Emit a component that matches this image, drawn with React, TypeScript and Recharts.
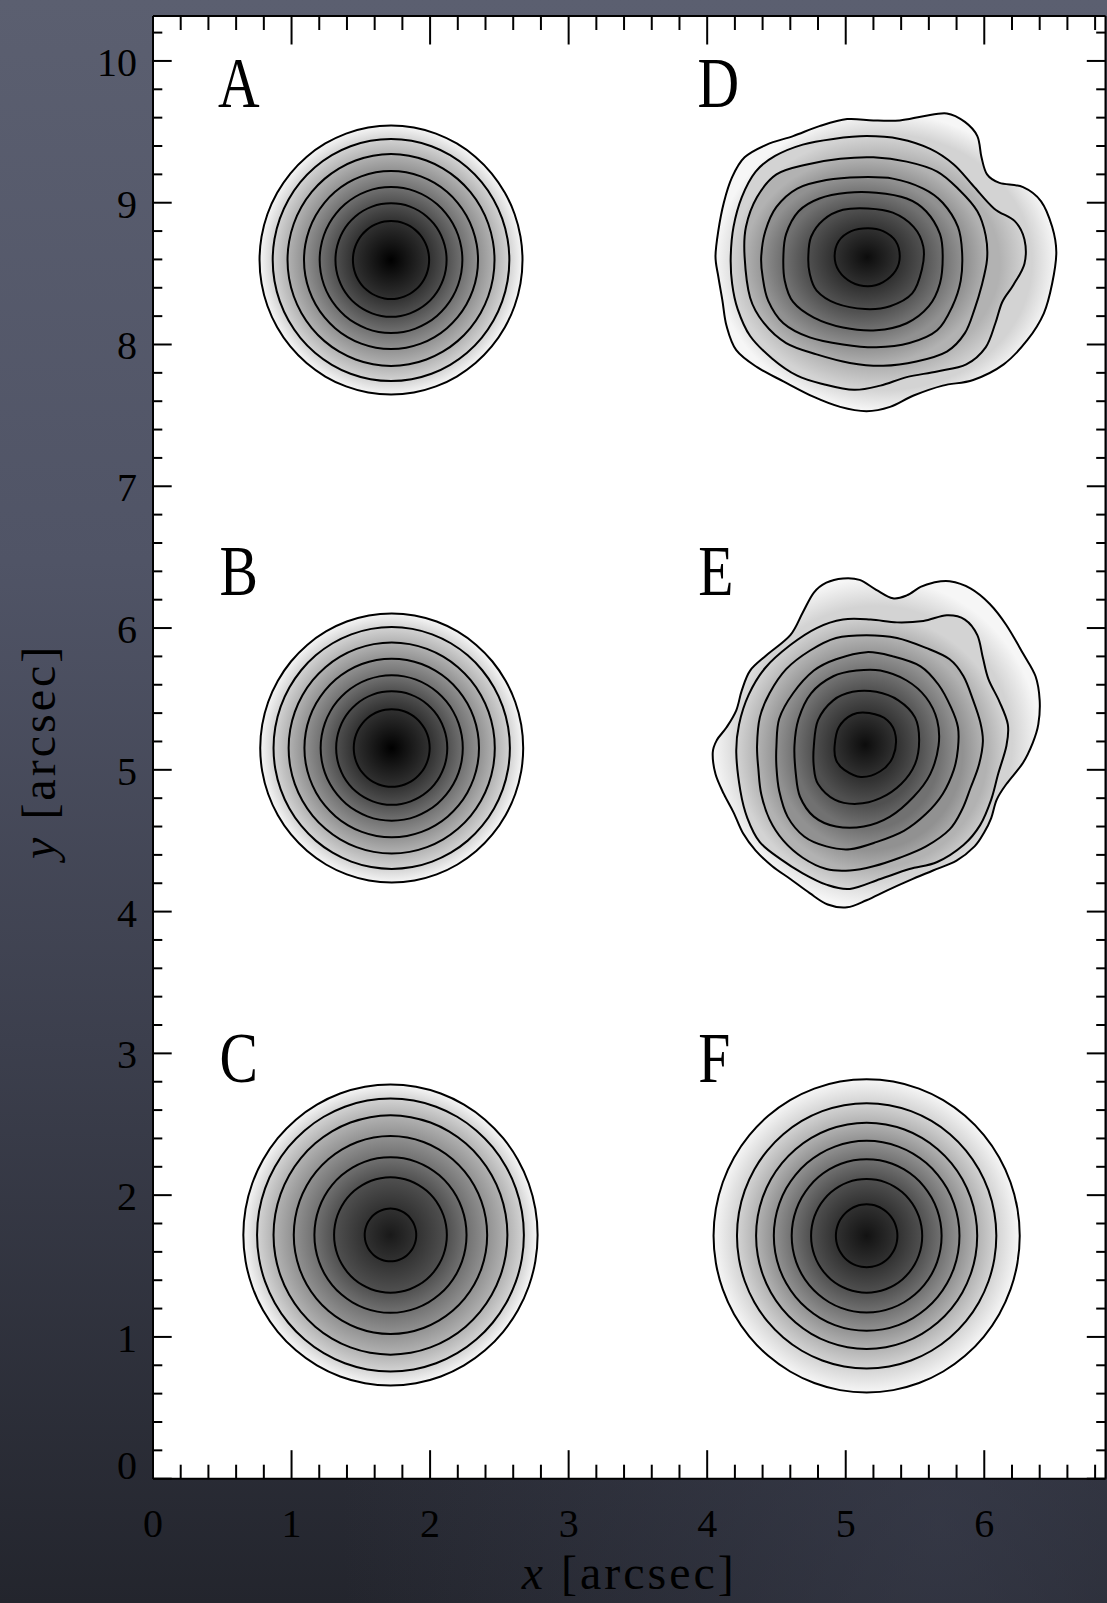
import React from 'react';
import { ScatterChart, Scatter, XAxis, YAxis, CartesianGrid } from 'recharts';

type Pt = [number, number];

const SERIF = '"Liberation Serif", "Times New Roman", serif';
const W = 1107;
const H = 1603;
// plot box: left 153, top 16, right 1105.5, bottom 1478.7
const MARGIN = { top: 6, right: 0.5, bottom: 4.3, left: 53 };
const PLOT_BOTTOM = 1478.7;

// axes
const xDomain: [number, number] = [0, 6.875];
const yDomain: [number, number] = [0, 10.317];
const xTicks = Array.from({ length: 35 }, (_, i) => +(i * 0.2).toFixed(1));
const yTicks = Array.from({ length: 52 }, (_, i) => +(i * 0.2).toFixed(1));

// panel letters
const panelLabels = ['A', 'B', 'C', 'D', 'E', 'F'];
const panelLabelX = [0.47, 0.48, 0.48, 3.93, 3.935, 3.935];
const panelLabelY = [9.675, 6.233, 2.798, 9.675, 6.233, 2.798];

// gray at each contour level (outer -> inner)
const contourGray = ['#f6f6f6', '#d3d3d3', '#b2b2b2', '#919191', '#717171', '#505050', '#313131'];

// round sources: centre + contour radii (arcsec)
const blobACenter: Pt = [1.718, 8.596];
const blobARadii = [0.949, 0.854, 0.747, 0.628, 0.515, 0.401, 0.275];
const blobBCenter: Pt = [1.723, 5.154];
const blobBRadii = [0.949, 0.853, 0.744, 0.63, 0.513, 0.401, 0.274];
const blobCCenter: Pt = [1.714, 1.719];
const blobCRadii = [1.062, 0.963, 0.844, 0.698, 0.549, 0.407, 0.186];
const blobFCenter: Pt = [5.151, 1.713];
const blobFRadii = [1.105, 0.936, 0.798, 0.67, 0.541, 0.401, 0.222];

// irregular source D, contours
const dRing1: Pt[] = [[4.06,8.62],[4.08,8.80],[4.12,9.00],[4.18,9.18],[4.27,9.32],[4.43,9.41],[4.62,9.47],[4.81,9.54],[5.01,9.59],[5.20,9.58],[5.39,9.58],[5.56,9.61],[5.73,9.63],[5.86,9.57],[5.95,9.47],[5.98,9.32],[6.02,9.20],[6.11,9.14],[6.28,9.11],[6.41,9.01],[6.49,8.83],[6.52,8.65],[6.49,8.43],[6.43,8.22],[6.31,8.03],[6.14,7.86],[5.92,7.75],[5.70,7.71],[5.49,7.64],[5.32,7.56],[5.15,7.53],[4.96,7.56],[4.77,7.63],[4.55,7.74],[4.36,7.84],[4.21,7.96],[4.14,8.13],[4.11,8.31],[4.08,8.48]];
const dRing2: Pt[] = [[4.17,8.62],[4.19,8.83],[4.25,9.04],[4.35,9.22],[4.49,9.33],[4.69,9.41],[4.91,9.45],[5.15,9.47],[5.39,9.45],[5.61,9.38],[5.78,9.27],[5.92,9.12],[6.07,8.96],[6.22,8.87],[6.29,8.74],[6.29,8.57],[6.21,8.42],[6.13,8.30],[6.08,8.15],[6.01,7.98],[5.87,7.86],[5.66,7.81],[5.44,7.77],[5.25,7.71],[5.06,7.68],[4.84,7.72],[4.65,7.78],[4.47,7.90],[4.31,8.06],[4.22,8.25],[4.18,8.43]];
const dRing3: Pt[] = [[4.27,8.62],[4.28,8.83],[4.36,9.04],[4.50,9.20],[4.72,9.27],[4.96,9.31],[5.20,9.32],[5.44,9.29],[5.66,9.22],[5.82,9.09],[5.95,8.94],[6.01,8.77],[6.02,8.60],[5.98,8.41],[5.93,8.25],[5.86,8.08],[5.73,7.95],[5.51,7.88],[5.27,7.85],[5.03,7.87],[4.79,7.93],[4.57,8.01],[4.41,8.15],[4.31,8.33]];
const dRing4: Pt[] = [[4.39,8.62],[4.42,8.80],[4.50,8.97],[4.65,9.10],[4.86,9.16],[5.10,9.18],[5.34,9.17],[5.56,9.10],[5.70,9.00],[5.81,8.83],[5.84,8.65],[5.83,8.45],[5.77,8.27],[5.66,8.10],[5.46,8.01],[5.22,7.98],[4.98,8.00],[4.74,8.05],[4.55,8.15],[4.44,8.31],[4.40,8.48]];
const dRing5: Pt[] = [[4.55,8.62],[4.57,8.78],[4.66,8.94],[4.81,9.03],[5.01,9.07],[5.22,9.07],[5.44,9.03],[5.58,8.94],[5.68,8.78],[5.70,8.62],[5.68,8.43],[5.60,8.27],[5.44,8.15],[5.22,8.10],[4.98,8.12],[4.77,8.19],[4.62,8.30],[4.56,8.45]];
const dRing6: Pt[] = [[4.73,8.62],[4.75,8.76],[4.84,8.88],[4.98,8.95],[5.16,8.96],[5.34,8.93],[5.49,8.83],[5.56,8.69],[5.55,8.53],[5.48,8.36],[5.32,8.27],[5.14,8.25],[4.93,8.29],[4.79,8.38],[4.74,8.50]];
const dRing7: Pt[] = [[4.92,8.62],[4.95,8.73],[5.04,8.80],[5.16,8.82],[5.27,8.80],[5.36,8.73],[5.39,8.62],[5.36,8.52],[5.27,8.44],[5.16,8.41],[5.04,8.44],[4.95,8.52]];

// irregular source E
const eRing1: Pt[] = [[4.04,5.12],[4.07,5.21],[4.14,5.30],[4.21,5.42],[4.25,5.56],[4.31,5.70],[4.43,5.81],[4.60,5.95],[4.69,6.11],[4.77,6.25],[4.86,6.32],[4.98,6.35],[5.10,6.34],[5.22,6.27],[5.34,6.21],[5.44,6.23],[5.54,6.29],[5.63,6.32],[5.75,6.33],[5.90,6.28],[6.04,6.17],[6.16,6.02],[6.28,5.82],[6.37,5.66],[6.40,5.49],[6.39,5.32],[6.35,5.19],[6.28,5.05],[6.16,4.90],[6.09,4.79],[6.05,4.66],[6.00,4.56],[5.93,4.46],[5.80,4.36],[5.63,4.29],[5.46,4.22],[5.30,4.15],[5.15,4.08],[5.01,4.03],[4.87,4.05],[4.74,4.13],[4.60,4.23],[4.47,4.32],[4.35,4.43],[4.26,4.55],[4.19,4.70],[4.12,4.83],[4.06,4.97]];
const eRing2: Pt[] = [[4.21,5.12],[4.23,5.32],[4.30,5.53],[4.42,5.72],[4.60,5.88],[4.79,6.00],[4.98,6.06],[5.18,6.06],[5.37,6.04],[5.56,6.05],[5.73,6.09],[5.86,6.06],[5.95,5.95],[5.99,5.79],[6.03,5.64],[6.11,5.48],[6.17,5.32],[6.16,5.17],[6.10,4.97],[6.05,4.79],[5.97,4.61],[5.85,4.47],[5.66,4.35],[5.46,4.30],[5.25,4.23],[5.03,4.16],[4.86,4.19],[4.69,4.27],[4.53,4.37],[4.38,4.49],[4.29,4.66],[4.24,4.85]];
const eRing3: Pt[] = [[4.36,5.17],[4.38,5.37],[4.45,5.54],[4.57,5.71],[4.74,5.84],[4.93,5.93],[5.15,5.95],[5.37,5.93],[5.58,5.86],[5.75,5.78],[5.85,5.66],[5.92,5.49],[5.97,5.34],[5.99,5.20],[5.96,5.03],[5.90,4.87],[5.84,4.72],[5.75,4.58],[5.58,4.46],[5.39,4.38],[5.20,4.32],[5.03,4.29],[4.86,4.30],[4.69,4.38],[4.55,4.50],[4.45,4.65],[4.39,4.83],[4.37,5.00]];
const eRing4: Pt[] = [[4.50,5.17],[4.52,5.36],[4.62,5.54],[4.77,5.70],[4.93,5.78],[5.15,5.83],[5.34,5.80],[5.54,5.73],[5.67,5.60],[5.76,5.44],[5.81,5.30],[5.81,5.15],[5.78,5.00],[5.70,4.83],[5.58,4.69],[5.42,4.57],[5.22,4.49],[5.03,4.44],[4.86,4.46],[4.70,4.53],[4.58,4.67],[4.52,4.85],[4.50,5.02]];
const eRing5: Pt[] = [[4.63,5.17],[4.66,5.36],[4.75,5.54],[4.91,5.66],[5.08,5.70],[5.25,5.70],[5.44,5.63],[5.58,5.51],[5.66,5.35],[5.67,5.17],[5.61,4.97],[5.49,4.81],[5.32,4.67],[5.13,4.60],[4.93,4.60],[4.77,4.67],[4.67,4.81],[4.64,4.97]];
const eRing6: Pt[] = [[4.77,5.17],[4.80,5.35],[4.91,5.49],[5.05,5.55],[5.22,5.55],[5.38,5.49],[5.50,5.37],[5.53,5.21],[5.50,5.04],[5.40,4.90],[5.25,4.80],[5.08,4.76],[4.92,4.79],[4.80,4.90],[4.77,5.02]];
const eRing7: Pt[] = [[4.92,5.17],[4.95,5.30],[5.05,5.39],[5.17,5.40],[5.30,5.35],[5.36,5.24],[5.34,5.09],[5.25,4.99],[5.11,4.95],[4.99,5.00],[4.93,5.07]];

const ringFromRadius = (c: Pt, r: number): Pt[] =>
  Array.from({ length: 36 }, (_, i) => {
    const a = (i / 36) * Math.PI * 2;
    return [c[0] + r * Math.cos(a), c[1] + r * Math.sin(a)] as Pt;
  });

const blobs = [
  { id: 'A', rings: blobARadii.map((r) => ringFromRadius(blobACenter, r)), core: '#000000' },
  { id: 'B', rings: blobBRadii.map((r) => ringFromRadius(blobBCenter, r)), core: '#000000' },
  { id: 'C', rings: blobCRadii.map((r) => ringFromRadius(blobCCenter, r)), core: '#191919' },
  { id: 'D', rings: [dRing1, dRing2, dRing3, dRing4, dRing5, dRing6, dRing7], core: '#0c0c0c' },
  { id: 'E', rings: [eRing1, eRing2, eRing3, eRing4, eRing5, eRing6, eRing7], core: '#0c0c0c' },
  { id: 'F', rings: blobFRadii.map((r) => ringFromRadius(blobFCenter, r)), core: '#121212' },
];

const labelData = panelLabels.map((label, i) => ({ x: panelLabelX[i], y: panelLabelY[i], label }));

// smooth closed curve through pixel points (catmull-rom)
function closedPath(pts: { x: number; y: number }[]) {
  const n = pts.length;
  if (!n) return '';
  let d = `M${pts[0].x},${pts[0].y}`;
  for (let i = 0; i < n; i++) {
    const p0 = pts[(i - 1 + n) % n];
    const p1 = pts[i];
    const p2 = pts[(i + 1) % n];
    const p3 = pts[(i + 2) % n];
    const c1x = p1.x + (p2.x - p0.x) / 6;
    const c1y = p1.y + (p2.y - p0.y) / 6;
    const c2x = p2.x - (p3.x - p1.x) / 6;
    const c2y = p2.y - (p3.y - p1.y) / 6;
    d += `C${c1x},${c1y} ${c2x},${c2y} ${p2.x},${p2.y}`;
  }
  return d + 'Z';
}

function makeBlobLine(id: string, sizes: number[], core: string) {
  return (props: any) => {
    const pts: { x: number; y: number }[] = props.points || [];
    const rings: { x: number; y: number }[][] = [];
    let k = 0;
    for (const n of sizes) {
      rings.push(pts.slice(k, k + n));
      k += n;
    }
    const boxes = rings.map((r) => {
      const xs = r.map((p) => p.x);
      const ys = r.map((p) => p.y);
      return { w: Math.max(...xs) - Math.min(...xs), h: Math.max(...ys) - Math.min(...ys) };
    });
    const paths = rings.map(closedPath);
    return (
      <g>
        <defs>
          {rings.map((_, i) => {
            const inner = i < rings.length - 1;
            const s = inner ? (boxes[i + 1].w / boxes[i].w + boxes[i + 1].h / boxes[i].h) / 2 : 0;
            return (
              <radialGradient key={i} id={`blob-${id}-${i}`} cx="50%" cy="50%" r="50%">
                <stop offset={s} stopColor={inner ? contourGray[i + 1] : core} />
                <stop offset={1} stopColor={contourGray[i]} />
              </radialGradient>
            );
          })}
        </defs>
        {paths.map((d, i) => (
          <path key={`f${i}`} d={d} fill={`url(#blob-${id}-${i})`} stroke="none" />
        ))}
        {paths.map((d, i) => (
          <path key={`s${i}`} d={d} fill="none" stroke="#000" strokeWidth={2} />
        ))}
      </g>
    );
  };
}

const NoDot = () => <g />;

const Letter = (p: any) => {
  const label = p.payload?.label ?? p.label;
  return (
    <text transform={`translate(${p.cx},${p.cy}) scale(0.8,1)`} fontFamily={SERIF} fontSize={72} fill="#000">
      {label}
    </text>
  );
};

const isMajor = (v: number) => Math.abs(v - Math.round(v)) < 1e-6;

const BottomTick = ({ x, y, payload }: any) => {
  const major = isMajor(payload.value);
  return (
    <g>
      <line x1={x} x2={x} y1={y} y2={y - (major ? 28.5 : 14)} stroke="#000" strokeWidth={2} />
      {major && (
        <text x={x} y={y + 58} textAnchor="middle" fontFamily={SERIF} fontSize={40} fill="#000">
          {Math.round(payload.value)}
        </text>
      )}
    </g>
  );
};

const TopTick = ({ x, y, payload }: any) => {
  const major = isMajor(payload.value);
  return <line x1={x} x2={x} y1={y} y2={y + (major ? 28.5 : 14)} stroke="#000" strokeWidth={2} />;
};

const LeftTick = ({ x, y, payload }: any) => {
  const major = isMajor(payload.value);
  // keep the lowest label inside the axis span
  const base = Math.min(y + 15, PLOT_BOTTOM);
  return (
    <g>
      <line x1={x} x2={x + (major ? 18.7 : 9.3)} y1={y} y2={y} stroke="#000" strokeWidth={2} />
      {major && (
        <text x={x - 16} y={base} textAnchor="end" fontFamily={SERIF} fontSize={40} fill="#000">
          {Math.round(payload.value)}
        </text>
      )}
    </g>
  );
};

const RightTick = ({ x, y, payload }: any) => {
  const major = isMajor(payload.value);
  return <line x1={x} x2={x - (major ? 18.7 : 9.3)} y1={y} y2={y} stroke="#000" strokeWidth={2} />;
};

const XTitle = (props: any) => {
  const vb = props.viewBox || { x: 153, y: PLOT_BOTTOM, width: 952.5 };
  return (
    <text x={vb.x + vb.width / 2} y={vb.y + 110} textAnchor="middle" fontFamily={SERIF} fontSize={48} fill="#000" letterSpacing={3}>
      <tspan fontStyle="italic">x</tspan> [arcsec]
    </text>
  );
};

const YTitle = (props: any) => {
  const vb = props.viewBox || { x: 53, y: 16, width: 100, height: 1462.7 };
  const cx = vb.x + vb.width - 98;
  const cy = vb.y + vb.height / 2 + 4;
  return (
    <text transform={`translate(${cx},${cy}) rotate(-90)`} textAnchor="middle" fontFamily={SERIF} fontSize={48} fill="#000" letterSpacing={3}>
      <tspan fontStyle="italic">y</tspan> [arcsec]
    </text>
  );
};

const axisLine = { stroke: '#000', strokeWidth: 2 };

export default function App() {
  return (
    <div
      style={{
        position: 'absolute',
        left: 0,
        top: 0,
        width: W,
        height: H,
        overflow: 'hidden',
        background:
          'radial-gradient(ellipse at 85% 95%, rgba(66,70,88,0.5), rgba(66,70,88,0) 45%), linear-gradient(180deg, #5b5f70 0%, #505466 35%, #3c3f4d 65%, #23252d 100%)',
      }}
    >
      <ScatterChart width={W} height={H} margin={MARGIN}>
        <CartesianGrid horizontal={false} vertical={false} fill="#ffffff" fillOpacity={1} stroke="none" />
        <XAxis
          dataKey="x"
          type="number"
          domain={xDomain}
          allowDataOverflow
          ticks={xTicks}
          interval={0}
          height={120}
          tickSize={0}
          tickMargin={0}
          tickLine={false}
          tick={BottomTick}
          axisLine={axisLine}
          label={{ content: XTitle }}
        />
        <XAxis
          xAxisId="top"
          orientation="top"
          dataKey="x"
          type="number"
          domain={xDomain}
          allowDataOverflow
          ticks={xTicks}
          interval={0}
          height={10}
          tickSize={0}
          tickMargin={0}
          tickLine={false}
          tick={TopTick}
          axisLine={axisLine}
        />
        <YAxis
          dataKey="y"
          type="number"
          domain={yDomain}
          allowDataOverflow
          ticks={yTicks}
          interval={0}
          width={100}
          tickSize={0}
          tickMargin={0}
          tickLine={false}
          tick={LeftTick}
          axisLine={axisLine}
          label={{ content: YTitle }}
        />
        <YAxis
          yAxisId="right"
          orientation="right"
          dataKey="y"
          type="number"
          domain={yDomain}
          allowDataOverflow
          ticks={yTicks}
          interval={0}
          width={1}
          tickSize={0}
          tickMargin={0}
          tickLine={false}
          tick={RightTick}
          axisLine={axisLine}
        />
        {blobs.map((b) => (
          <Scatter
            key={b.id}
            name={b.id}
            data={b.rings.flat().map(([x, y]) => ({ x, y }))}
            line={makeBlobLine(b.id, b.rings.map((r) => r.length), b.core)}
            shape={NoDot}
            isAnimationActive={false}
          />
        ))}
        <Scatter
          name="labels"
          xAxisId="top"
          yAxisId="right"
          data={labelData}
          shape={Letter}
          isAnimationActive={false}
        />
      </ScatterChart>
    </div>
  );
}
